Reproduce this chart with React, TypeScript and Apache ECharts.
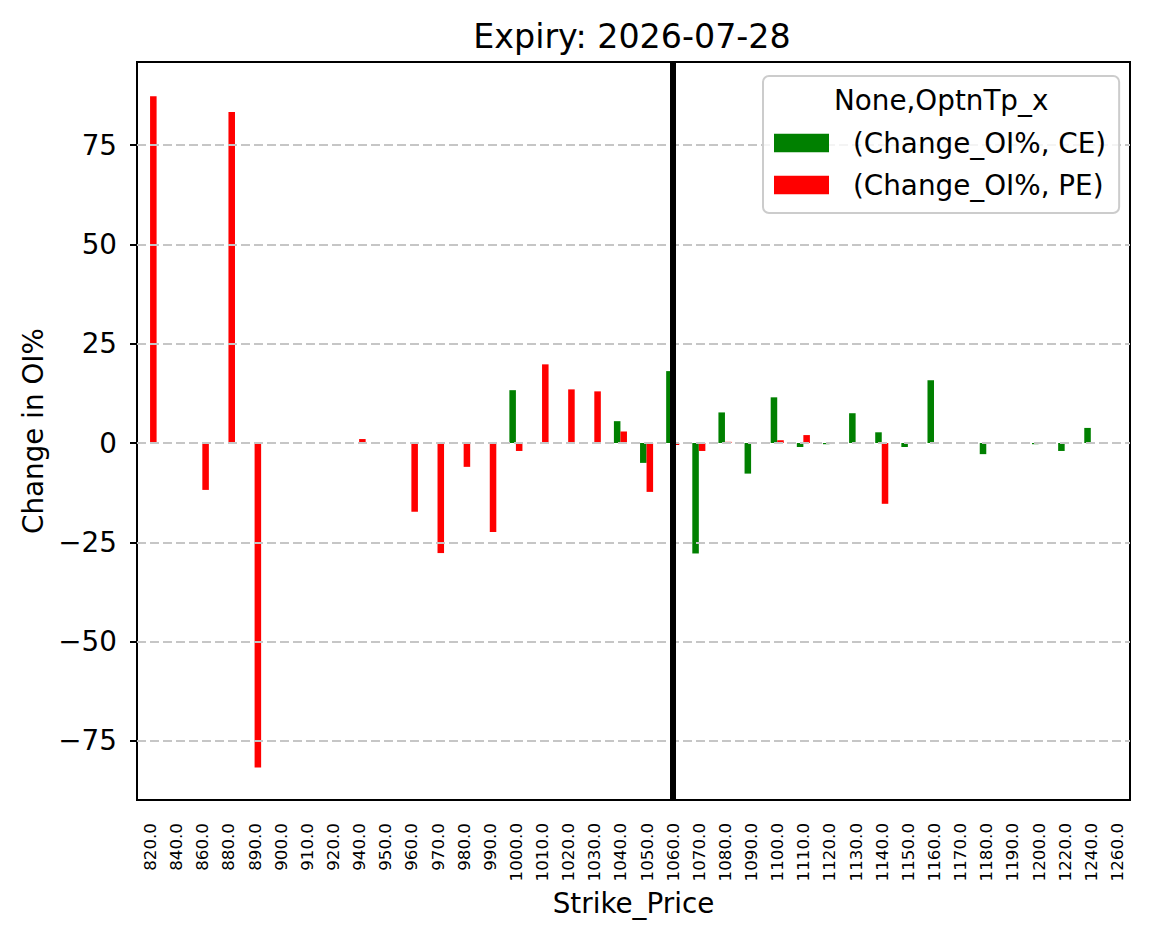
import React, { useEffect, useRef } from "react";
import * as echarts from "echarts";

const strikes = [820, 840, 860, 880, 890, 900, 910, 920, 940, 950, 960, 970, 980, 990, 1000, 1010, 1020, 1030, 1040, 1050, 1060, 1070, 1080, 1090, 1100, 1110, 1120, 1130, 1140, 1150, 1160, 1170, 1180, 1190, 1200, 1220, 1240, 1260];

const ceChange: (number | null)[] = [null, null, null, null, null, null, null, null, null, null, null, null, null, null, 13.3, null, null, null, 5.5, -5.0, 18.1, -27.8, 7.7, -7.7, 11.5, -1.0, -0.3, 7.5, 2.7, -1.0, 15.8, null, -2.8, null, -0.3, -2.0, 3.8, null];

const peChange: (number | null)[] = [87.3, null, -11.8, 83.3, -81.7, null, null, null, 1.0, null, -17.3, -27.7, -6.0, -22.4, -2.0, 19.8, 13.5, 13.0, 2.9, -12.3, -0.5, -2.0, 0.3, null, 0.7, 2.0, null, null, -15.3, null, null, null, null, null, null, null, null, null];

const yTicks = [-75, -50, -25, 0, 25, 50, 75];
const spotStrike = 1060;
const ceName = "(Change_OI%, CE)";
const peName = "(Change_OI%, PE)";

const FONT = "DejaVu Sans";

export default function App() {
  const ref = useRef<HTMLDivElement>(null);
  useEffect(() => {
    if (!ref.current) return;
    const chart = echarts.init(ref.current, null, { renderer: "svg" });
    const cats = strikes.map((s) => s.toFixed(1));
    chart.setOption({
      animation: false,
      backgroundColor: "#ffffff",
      textStyle: { fontFamily: FONT, color: "#000" },
      title: {
        text: "Expiry: 2026-07-28",
        left: 627,
        textAlign: "center",
        top: 15,
        textStyle: { fontFamily: FONT, fontSize: 33.3, fontWeight: "normal", color: "#000" },
      },
      legend: {
        data: [ceName, peName],
        orient: "vertical",
        left: 763,
        top: 76,
        z: 20,
        padding: [52, 13, 13, 11],
        itemGap: 12,
        itemWidth: 55,
        itemHeight: 18.5,
        icon: "rect",
        borderColor: "#cccccc",
        borderWidth: 2,
        borderRadius: 6,
        backgroundColor: "rgba(255,255,255,0.8)",
        textStyle: { fontFamily: FONT, fontSize: 27.8, color: "#000", lineHeight: 30, padding: [0, 0, 0, 19] },
      },
      graphic: [
        {
          type: "text",
          left: 834,
          top: 86,
          z: 100,
          style: {
            text: "None,OptnTp_x",
            font: `27.8px '${FONT}'`,
            fill: "#000",
          },
        },
      ],
      grid: {
        left: 137,
        right: 19,
        top: 62,
        bottom: 139,
        show: true,
        borderColor: "#000",
        borderWidth: 2,
        containLabel: false,
      },
      xAxis: {
        type: "category",
        data: cats,
        boundaryGap: true,
        name: "Strike_Price",
        nameLocation: "middle",
        nameGap: 88,
        nameTextStyle: { fontFamily: FONT, fontSize: 27.8, color: "#000" },
        axisLine: { onZero: false, lineStyle: { color: "#000", width: 2 } },
        axisTick: { alignWithLabel: true, length: 8, lineStyle: { color: "#000", width: 2 } },
        axisLabel: { interval: 0, rotate: 90, fontSize: 16.7, fontFamily: FONT, color: "#000", margin: 23 },
        splitLine: { show: false },
      },
      yAxis: {
        type: "value",
        min: -89.85,
        max: 95.9,
        name: "Change in OI%",
        nameLocation: "middle",
        nameGap: 90,
        nameTextStyle: { fontFamily: FONT, fontSize: 27.8, color: "#000" },
        axisLine: { show: true, lineStyle: { color: "#000", width: 2 } },
        axisTick: { show: true, length: 7, customValues: yTicks, lineStyle: { color: "#000", width: 2 } },
        axisLabel: {
          customValues: yTicks,
          fontSize: 27.8,
          fontFamily: FONT,
          color: "#000",
          margin: 20,
          formatter: (v: number) => (v < 0 ? "\u2212" + Math.abs(v) : String(v)),
        },
        splitLine: { show: false },
      },
      series: [
        {
          type: "line",
          name: "grid",
          data: [],
          z: 0,
          silent: true,
          markLine: {
            silent: true,
            symbol: ["none", "none"],
            label: { show: false },
            lineStyle: { color: "#c6c6c6", width: 2, type: [9, 4] },
            data: yTicks.map((t) => ({ yAxis: t })),
          },
        },
        {
          type: "bar",
          name: ceName,
          data: ceChange,
          itemStyle: { color: "#008000" },
          barGap: "0%",
          barCategoryGap: "50%",
          z: 2,
        },
        {
          type: "bar",
          name: peName,
          data: peChange,
          itemStyle: { color: "#ff0000" },
          barGap: "0%",
          barCategoryGap: "50%",
          z: 2,
        },
        {
          type: "line",
          name: "spot",
          data: [],
          z: 10,
          silent: true,
          markLine: {
            silent: true,
            symbol: ["none", "none"],
            label: { show: false },
            lineStyle: { color: "#000", width: 6, type: "solid" },
            data: [{ xAxis: spotStrike.toFixed(1) }],
          },
        },
      ],
    });
    return () => chart.dispose();
  }, []);
  return <div ref={ref} style={{ position: "fixed", left: 0, top: 0, width: 1149, height: 939 }} />;
}
